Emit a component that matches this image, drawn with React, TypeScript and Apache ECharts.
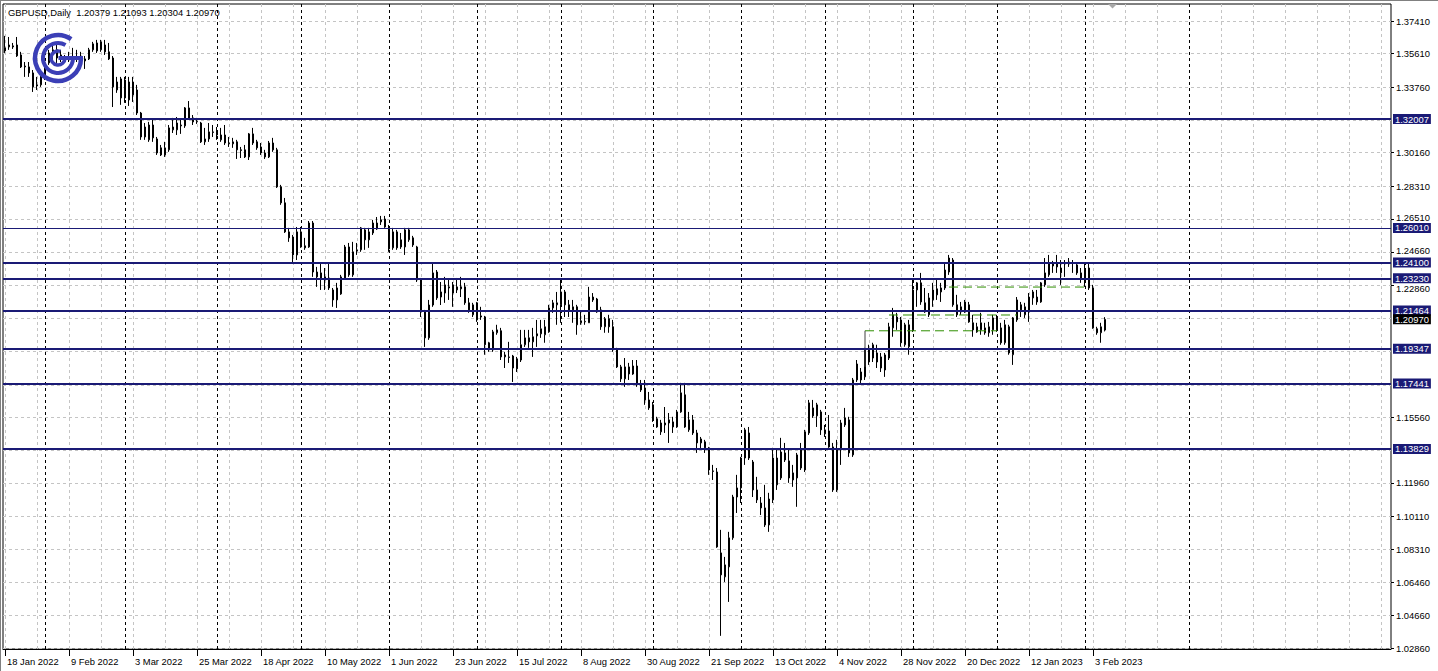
import React, { useEffect, useRef } from 'react';
import * as echarts from 'echarts';

// ---------- data ----------
const TITLE = 'GBPUSD,Daily  1.20379 1.21093 1.20304 1.20970';
const FIRST_DAY = [2022, 0, 18];
const MISSING_DAYS = ['2022-12-26'];
const FUTURE_SLOTS = 71;
const LABEL_EVERY = 16;
const LAST_LABEL_INDEX = 272;
const VGRID_EVERY = 8;
const FUTURE_SEPARATORS = [296];
const MONTHS = ['Jan', 'Feb', 'Mar', 'Apr', 'May', 'Jun', 'Jul', 'Aug', 'Sep', 'Oct', 'Nov', 'Dec'];

// [open, high, low, close]
const OHLC: number[][] = [
  [1.3593, 1.3659, 1.3565, 1.3576], [1.3598, 1.3653, 1.3582, 1.3609], [1.3598, 1.3620, 1.3587, 1.3604], [1.3609, 1.3653, 1.3543, 1.3549],
  [1.3554, 1.3571, 1.3482, 1.3488], [1.3488, 1.3515, 1.3433, 1.3493], [1.3488, 1.3515, 1.3433, 1.3455], [1.3455, 1.3471, 1.3350, 1.3378],
  [1.3383, 1.3433, 1.3361, 1.3389], [1.3389, 1.3444, 1.3378, 1.3433], [1.3433, 1.3526, 1.3416, 1.3510], [1.3510, 1.3582, 1.3499, 1.3565],
  [1.3565, 1.3609, 1.3510, 1.3582], [1.3582, 1.3620, 1.3510, 1.3537], [1.3554, 1.3582, 1.3515, 1.3537], [1.3532, 1.3554, 1.3510, 1.3529],
  [1.3537, 1.3571, 1.3515, 1.3540], [1.3540, 1.3593, 1.3510, 1.3537], [1.3537, 1.3582, 1.3515, 1.3543], [1.3548, 1.3571, 1.3515, 1.3526],
  [1.3521, 1.3548, 1.3477, 1.3532], [1.3532, 1.3593, 1.3526, 1.3582], [1.3582, 1.3626, 1.3571, 1.3615], [1.3576, 1.3637, 1.3565, 1.3620],
  [1.3582, 1.3637, 1.3571, 1.3626], [1.3609, 1.3637, 1.3554, 1.3571], [1.3571, 1.3620, 1.3526, 1.3532], [1.3537, 1.3548, 1.3267, 1.3378],
  [1.3361, 1.3433, 1.3345, 1.3405], [1.3317, 1.3433, 1.3279, 1.3422], [1.3416, 1.3433, 1.3290, 1.3317], [1.3306, 1.3433, 1.3273, 1.3405],
  [1.3405, 1.3433, 1.3295, 1.3334], [1.3361, 1.3389, 1.3223, 1.3234], [1.3234, 1.3240, 1.3086, 1.3102], [1.3102, 1.3179, 1.3086, 1.3157],
  [1.3086, 1.3185, 1.3075, 1.3168], [1.3168, 1.3196, 1.3075, 1.3097], [1.3091, 1.3102, 1.3003, 1.3014], [1.3042, 1.3058, 1.2997, 1.3003],
  [1.3003, 1.3075, 1.2992, 1.3042], [1.3031, 1.3168, 1.3020, 1.3152], [1.3141, 1.3207, 1.3124, 1.3157], [1.3141, 1.3212, 1.3113, 1.3179],
  [1.3163, 1.3196, 1.3119, 1.3168], [1.3163, 1.3267, 1.3152, 1.3262], [1.3262, 1.3300, 1.3196, 1.3201], [1.3207, 1.3223, 1.3168, 1.3185],
  [1.3185, 1.3207, 1.3174, 1.3188], [1.3179, 1.3185, 1.3069, 1.3075], [1.3075, 1.3152, 1.3058, 1.3091], [1.3091, 1.3179, 1.3075, 1.3130],
  [1.3130, 1.3168, 1.3102, 1.3127], [1.3135, 1.3157, 1.3086, 1.3113], [1.3086, 1.3152, 1.3075, 1.3113], [1.3113, 1.3168, 1.3058, 1.3069],
  [1.3069, 1.3102, 1.3047, 1.3066], [1.3064, 1.3097, 1.3042, 1.3075], [1.3075, 1.3086, 1.2981, 1.3031], [1.3031, 1.3047, 1.2986, 1.3028],
  [1.3031, 1.3058, 1.2986, 1.2992], [1.2992, 1.3124, 1.2975, 1.3119], [1.3119, 1.3152, 1.3058, 1.3069], [1.3075, 1.3086, 1.3031, 1.3042],
  [1.3047, 1.3069, 1.3003, 1.3014], [1.3014, 1.3031, 1.2981, 1.2992], [1.2992, 1.3080, 1.2986, 1.3069], [1.3069, 1.3097, 1.3020, 1.3031],
  [1.3031, 1.3042, 1.2821, 1.2827], [1.2827, 1.2838, 1.2728, 1.2739], [1.2739, 1.2766, 1.2573, 1.2579], [1.2579, 1.2601, 1.2524, 1.2546],
  [1.2551, 1.2562, 1.2413, 1.2452], [1.2452, 1.2606, 1.2424, 1.2579], [1.2579, 1.2606, 1.2491, 1.2496], [1.2502, 1.2546, 1.2480, 1.2491],
  [1.2496, 1.2639, 1.2491, 1.2628], [1.2628, 1.2639, 1.2331, 1.2358], [1.2358, 1.2386, 1.2276, 1.2331], [1.2353, 1.2408, 1.2259, 1.2325],
  [1.2331, 1.2380, 1.2259, 1.2314], [1.2325, 1.2408, 1.2259, 1.2270], [1.2259, 1.2270, 1.2166, 1.2204], [1.2204, 1.2298, 1.2160, 1.2270],
  [1.2237, 1.2342, 1.2232, 1.2331], [1.2325, 1.2507, 1.2314, 1.2496], [1.2496, 1.2518, 1.2331, 1.2342], [1.2342, 1.2524, 1.2331, 1.2469],
  [1.2474, 1.2518, 1.2452, 1.2480], [1.2480, 1.2606, 1.2469, 1.2601], [1.2590, 1.2601, 1.2480, 1.2535], [1.2535, 1.2601, 1.2491, 1.2579],
  [1.2573, 1.2645, 1.2562, 1.2628], [1.2595, 1.2661, 1.2590, 1.2628], [1.2634, 1.2667, 1.2617, 1.2645], [1.2650, 1.2667, 1.2601, 1.2606],
  [1.2606, 1.2617, 1.2469, 1.2485], [1.2491, 1.2601, 1.2480, 1.2579], [1.2579, 1.2590, 1.2480, 1.2491], [1.2535, 1.2573, 1.2485, 1.2496],
  [1.2496, 1.2601, 1.2452, 1.2590], [1.2535, 1.2601, 1.2524, 1.2590], [1.2546, 1.2557, 1.2496, 1.2507], [1.2496, 1.2502, 1.2303, 1.2314],
  [1.2314, 1.2325, 1.2110, 1.2138], [1.2138, 1.2149, 1.1945, 1.1995], [1.1995, 1.2204, 1.1984, 1.2176], [1.2176, 1.2408, 1.2166, 1.2353],
  [1.2358, 1.2369, 1.2204, 1.2215], [1.2220, 1.2303, 1.2176, 1.2248], [1.2242, 1.2331, 1.2188, 1.2287], [1.2270, 1.2314, 1.2204, 1.2276],
  [1.2287, 1.2303, 1.2166, 1.2242], [1.2259, 1.2325, 1.2242, 1.2276], [1.2276, 1.2331, 1.2220, 1.2265], [1.2276, 1.2298, 1.2177, 1.2188],
  [1.2188, 1.2215, 1.2133, 1.2149], [1.2122, 1.2188, 1.2110, 1.2177], [1.2188, 1.2193, 1.2083, 1.2094], [1.2116, 1.2166, 1.2094, 1.2110],
  [1.2110, 1.2116, 1.1902, 1.1957], [1.1929, 1.1973, 1.1918, 1.1968], [1.1929, 1.2039, 1.1918, 1.2028], [1.2023, 1.2067, 1.2012, 1.2039],
  [1.2034, 1.2050, 1.1873, 1.1890], [1.1890, 1.1918, 1.1829, 1.1901], [1.1890, 1.1973, 1.1857, 1.1887], [1.1895, 1.1901, 1.1752, 1.1829],
  [1.1824, 1.1890, 1.1807, 1.1879], [1.1873, 1.2039, 1.1862, 1.1957], [1.1957, 1.2039, 1.1945, 1.1995], [1.1995, 1.2039, 1.1940, 1.1973],
  [1.1973, 1.2050, 1.1890, 1.2001], [1.2017, 1.2094, 1.1945, 1.2006], [1.2017, 1.2094, 1.1995, 1.2045], [1.2012, 1.2094, 1.1968, 1.2056],
  [1.2028, 1.2177, 1.2023, 1.2160], [1.2160, 1.2204, 1.2133, 1.2188], [1.2177, 1.2248, 1.2067, 1.2188], [1.2177, 1.2314, 1.2078, 1.2248],
  [1.2248, 1.2259, 1.2110, 1.2177], [1.2177, 1.2204, 1.2110, 1.2149], [1.2149, 1.2204, 1.2078, 1.2166], [1.2166, 1.2177, 1.2012, 1.2067],
  [1.2078, 1.2138, 1.2067, 1.2089], [1.2083, 1.2122, 1.2067, 1.2086], [1.2078, 1.2276, 1.2078, 1.2220], [1.2220, 1.2242, 1.2193, 1.2204],
  [1.2209, 1.2215, 1.2133, 1.2138], [1.2149, 1.2166, 1.2039, 1.2056], [1.2056, 1.2110, 1.2023, 1.2100], [1.2100, 1.2122, 1.2023, 1.2056],
  [1.2056, 1.2094, 1.1918, 1.1929], [1.1929, 1.1940, 1.1829, 1.1835], [1.1835, 1.1846, 1.1752, 1.1769], [1.1769, 1.1884, 1.1725, 1.1835],
  [1.1835, 1.1857, 1.1763, 1.1796], [1.1796, 1.1873, 1.1791, 1.1840], [1.1840, 1.1873, 1.1725, 1.1736], [1.1736, 1.1763, 1.1697, 1.1708],
  [1.1719, 1.1763, 1.1626, 1.1653], [1.1653, 1.1697, 1.1598, 1.1609], [1.1626, 1.1642, 1.1532, 1.1543], [1.1549, 1.1560, 1.1499, 1.1504],
  [1.1477, 1.1543, 1.1460, 1.1526], [1.1515, 1.1614, 1.1471, 1.1526], [1.1526, 1.1581, 1.1416, 1.1543], [1.1532, 1.1560, 1.1471, 1.1504],
  [1.1504, 1.1598, 1.1499, 1.1587], [1.1587, 1.1747, 1.1582, 1.1692], [1.1681, 1.1747, 1.1499, 1.1504], [1.1488, 1.1587, 1.1477, 1.1543],
  [1.1543, 1.1570, 1.1460, 1.1471], [1.1471, 1.1488, 1.1361, 1.1416], [1.1416, 1.1449, 1.1378, 1.1438], [1.1422, 1.1433, 1.1361, 1.1389],
  [1.1389, 1.1394, 1.1240, 1.1267], [1.1262, 1.1295, 1.1212, 1.1259], [1.1256, 1.1278, 1.0838, 1.0843], [1.0810, 1.0937, 1.0353, 1.0689],
  [1.0678, 1.0788, 1.0650, 1.0744], [1.0733, 1.0926, 1.0540, 1.0893], [1.0893, 1.1130, 1.0882, 1.1118], [1.1118, 1.1240, 1.1030, 1.1168],
  [1.1168, 1.1339, 1.1085, 1.1333], [1.1333, 1.1499, 1.1295, 1.1488], [1.1471, 1.1504, 1.1322, 1.1333], [1.1311, 1.1322, 1.1118, 1.1157],
  [1.1157, 1.1229, 1.1085, 1.1102], [1.1085, 1.1118, 1.1019, 1.1058], [1.1058, 1.1185, 1.0953, 1.0964], [1.0964, 1.1141, 1.0926, 1.1107],
  [1.1102, 1.1389, 1.1085, 1.1333], [1.1333, 1.1378, 1.1157, 1.1185], [1.1223, 1.1444, 1.1212, 1.1366], [1.1361, 1.1416, 1.1311, 1.1322],
  [1.1317, 1.1378, 1.1196, 1.1223], [1.1212, 1.1295, 1.1174, 1.1251], [1.1223, 1.1361, 1.1064, 1.1350], [1.1378, 1.1416, 1.1267, 1.1278],
  [1.1267, 1.1488, 1.1256, 1.1477], [1.1471, 1.1653, 1.1460, 1.1637], [1.1609, 1.1653, 1.1554, 1.1565], [1.1565, 1.1637, 1.1504, 1.1626],
  [1.1587, 1.1598, 1.1460, 1.1488], [1.1466, 1.1515, 1.1449, 1.1488], [1.1482, 1.1570, 1.1389, 1.1394], [1.1394, 1.1416, 1.1146, 1.1157],
  [1.1157, 1.1433, 1.1146, 1.1378], [1.1378, 1.1543, 1.1295, 1.1526], [1.1515, 1.1609, 1.1504, 1.1554], [1.1543, 1.1560, 1.1339, 1.1361],
  [1.1350, 1.1774, 1.1339, 1.1763], [1.1763, 1.1873, 1.1752, 1.1851], [1.1807, 1.1829, 1.1736, 1.1763], [1.1780, 1.1940, 1.1763, 1.1929],
  [1.1862, 1.1957, 1.1846, 1.1929], [1.1884, 1.1968, 1.1862, 1.1957], [1.1912, 1.1957, 1.1829, 1.1862], [1.1829, 1.1912, 1.1807, 1.1890],
  [1.1901, 1.1912, 1.1780, 1.1818], [1.1884, 1.2078, 1.1873, 1.2056], [1.2050, 1.2160, 1.2001, 1.2122], [1.2110, 1.2133, 1.2039, 1.2083],
  [1.2094, 1.2110, 1.1946, 1.1968], [1.1957, 1.2078, 1.1946, 1.2067], [1.1946, 1.2094, 1.1902, 1.2067], [1.2039, 1.2314, 1.2028, 1.2259],
  [1.2259, 1.2303, 1.2166, 1.2298], [1.2298, 1.2353, 1.2177, 1.2193], [1.2188, 1.2270, 1.2133, 1.2138], [1.2122, 1.2242, 1.2110, 1.2215],
  [1.2204, 1.2298, 1.2166, 1.2259], [1.2265, 1.2314, 1.2204, 1.2232], [1.2248, 1.2298, 1.2193, 1.2270], [1.2270, 1.2408, 1.2259, 1.2369],
  [1.2358, 1.2452, 1.2342, 1.2435], [1.2424, 1.2435, 1.2166, 1.2177], [1.2177, 1.2232, 1.2110, 1.2122], [1.2138, 1.2193, 1.2122, 1.2166],
  [1.2138, 1.2204, 1.2133, 1.2193], [1.2177, 1.2193, 1.2078, 1.2083], [1.2078, 1.2122, 1.2001, 1.2039], [1.2028, 1.2078, 1.2023, 1.2056],
  [1.2039, 1.2133, 1.2012, 1.2078], [1.2050, 1.2078, 1.2012, 1.2023], [1.2023, 1.2083, 1.2001, 1.2056], [1.2039, 1.2122, 1.2012, 1.2105],
  [1.2110, 1.2122, 1.2028, 1.2039], [1.2050, 1.2078, 1.1957, 1.1968], [1.1968, 1.2094, 1.1957, 1.2067], [1.2056, 1.2067, 1.1902, 1.1912],
  [1.1902, 1.2110, 1.1846, 1.2105], [1.2094, 1.2220, 1.2083, 1.2204], [1.2177, 1.2193, 1.2110, 1.2149], [1.2122, 1.2188, 1.2105, 1.2166],
  [1.2138, 1.2242, 1.2083, 1.2220], [1.2215, 1.2259, 1.2177, 1.2248], [1.2220, 1.2259, 1.2177, 1.2193], [1.2193, 1.2303, 1.2188, 1.2298],
  [1.2287, 1.2435, 1.2276, 1.2353], [1.2342, 1.2452, 1.2331, 1.2408], [1.2391, 1.2419, 1.2353, 1.2408], [1.2408, 1.2452, 1.2353, 1.2386],
  [1.2353, 1.2424, 1.2287, 1.2380], [1.2408, 1.2424, 1.2331, 1.2402], [1.2402, 1.2435, 1.2386, 1.2413], [1.2408, 1.2424, 1.2353, 1.2405],
  [1.2397, 1.2413, 1.2342, 1.2353], [1.2353, 1.2380, 1.2298, 1.2325], [1.2325, 1.2408, 1.2276, 1.2369], [1.2380, 1.2408, 1.2259, 1.2270],
  [1.2270, 1.2287, 1.2045, 1.2050], [1.2045, 1.2056, 1.2012, 1.2023], [1.2023, 1.2078, 1.1968, 1.2056], [1.20379, 1.21093, 1.20304, 1.20970],
];

const PRICE_GRID = [1.37410, 1.35610, 1.33760, 1.31960, 1.30160, 1.28310, 1.26510, 1.24660, 1.22860, 1.21010,
  1.19210, 1.17360, 1.15560, 1.13760, 1.11960, 1.10110, 1.08310, 1.06460, 1.04660, 1.02860];
const PRICE_LABELS = [1.37410, 1.35610, 1.33760, 1.30160, 1.28310, 1.26510, 1.24660, 1.22860, 1.15560,
  1.11960, 1.10110, 1.08310, 1.06460, 1.04660, 1.02860];
const LABELS_NUDGED_UP = [1.26510, 1.24660];
const LABELS_NUDGED_DOWN = [1.22860];
const LEVELS = [1.32007, 1.26010, 1.24100, 1.23230, 1.21464, 1.19347, 1.17441, 1.13829];
const THIN_LEVELS = [1.26010];
const BID = 1.20970;
const Y_MIN = 1.02805;
const Y_MAX = 1.38347;
const OBJECT_HLINES = [
  { from: 215, to: 248, price: 1.2034 },
  { from: 221, to: 253, price: 1.2121 },
  { from: 236, to: 270, price: 1.2275 },
];
const OBJECT_VLINES = [{ at: 215, from: 1.2034, to: 1.1835 }];

// ---------- styles ----------
const FONT = 'Liberation Sans';
const FS = 9.4;
const NAVY = '#1a1a75';
const GRID_GREY = '#c4c4c4';
const GREEN = '#2f8f00';
const LOGO = '#3b3fb6';

function buildDates(n: number) {
  const out: { label: string; month: number }[] = [];
  const d = new Date(Date.UTC(FIRST_DAY[0], FIRST_DAY[1], FIRST_DAY[2]));
  while (out.length < n) {
    const wd = d.getUTCDay();
    const iso = d.toISOString().slice(0, 10);
    if (wd !== 0 && wd !== 6 && !MISSING_DAYS.includes(iso)) {
      out.push({ label: `${d.getUTCDate()} ${MONTHS[d.getUTCMonth()]} ${d.getUTCFullYear()}`, month: d.getUTCMonth() });
    }
    d.setUTCDate(d.getUTCDate() + 1);
  }
  return out;
}

function helperLine(name: string, z: number, markLine: any) {
  return {
    type: 'line', name, data: [], silent: true, z,
    markLine: { silent: true, symbol: ['none', 'none'], animation: false, precision: 5, z, label: { show: false }, ...markLine },
  };
}

function segmentSeries(name: string, pts: number[][], color: string, type: any, z: number) {
  return {
    type: 'line', name, data: pts, silent: true, z,
    symbol: 'none', showSymbol: false,
    lineStyle: { color, width: 1, type },
    itemStyle: { color },
    emphasis: { disabled: true },
  };
}

const near = (a: number, list: number[]) => list.some((v) => Math.abs(v - a) < 1e-7);

export default function App() {
  const ref = useRef<HTMLDivElement>(null);
  useEffect(() => {
    document.body.style.margin = '0';
    const el = ref.current;
    if (!el) return;
    const chart = echarts.init(el, undefined, { renderer: 'svg' });

    const dates = buildDates(OHLC.length);
    const categories = dates.map((d) => d.label);
    for (let k = 0; k < FUTURE_SLOTS; k++) categories.push(`f${k}`);
    const nCat = categories.length;

    const separators: number[] = [];
    for (let i = 1; i < dates.length; i++) if (dates[i].month !== dates[i - 1].month) separators.push(i);
    FUTURE_SEPARATORS.forEach((s) => separators.push(s));

    const vgrid: number[] = [];
    for (let i = 0; i < nCat; i += VGRID_EVERY) vgrid.push(i);

    const showLabel = (idx: number) => idx % LABEL_EVERY === 0 && idx <= LAST_LABEL_INDEX;

    const candleData = OHLC.map(([o, h, l, c]) => [o, c, l, h]);

    const levelData: any[] = LEVELS.map((v) => ({
      yAxis: v,
      lineStyle: { color: NAVY, width: THIN_LEVELS.includes(v) ? 1 : 2, type: 'solid' },
      label: { backgroundColor: NAVY },
    }));
    levelData.push({
      yAxis: BID,
      lineStyle: { color: 'rgba(0,0,0,0)', width: 1, type: 'solid' },
      label: { backgroundColor: '#000' },
    });

    const objectSeries: any[] = [
      ...OBJECT_HLINES.map((o, k) => segmentSeries(`obj${k}`, [[o.from, o.price], [o.to, o.price]], GREEN, [9, 5], 4)),
      ...OBJECT_VLINES.map((o, k) => segmentSeries(`objv${k}`, [[o.at, o.from], [o.at, o.to]], '#404040', 'solid', 4)),
    ];

    const option: any = {
      animation: false,
      backgroundColor: '#fff',
      textStyle: { fontFamily: FONT },
      grid: {
        left: 3, right: 47, top: 4, bottom: 22,
        show: true, borderColor: '#000', borderWidth: 1, backgroundColor: '#fff',
        containLabel: false, outerBoundsMode: 'none',
      },
      xAxis: {
        type: 'category',
        data: categories,
        boundaryGap: true,
        axisLine: { show: true, lineStyle: { color: '#000', width: 1 } },
        axisTick: { show: true, alignWithLabel: true, interval: (i: number) => showLabel(i), length: 7, lineStyle: { color: '#000' } },
        axisLabel: {
          interval: (i: number) => showLabel(i),
          align: 'left', margin: 8, color: '#000', fontSize: FS, fontFamily: FONT,
          padding: [0, 0, 0, 2],
        },
        splitLine: { show: false },
      },
      yAxis: {
        type: 'value',
        position: 'right',
        min: Y_MIN,
        max: Y_MAX,
        scale: true,
        axisLine: { show: false },
        axisTick: { show: true, customValues: PRICE_LABELS, length: 3, lineStyle: { color: '#000' } },
        axisLabel: {
          customValues: PRICE_LABELS,
          formatter: (v: number) => {
            const t = v.toFixed(5);
            if (near(v, LABELS_NUDGED_DOWN)) return `{dn|${t}}`;
            if (near(v, LABELS_NUDGED_UP)) return `{up|${t}}`;
            return t;
          },
          rich: {
            dn: { padding: [7, 0, 0, 0], fontSize: FS, fontFamily: FONT, color: '#000' },
            up: { padding: [0, 0, 3, 0], fontSize: FS, fontFamily: FONT, color: '#000' },
          },
          margin: 5, color: '#000', fontSize: FS, fontFamily: FONT,
        },
        splitLine: { show: false },
      },
      series: [
        helperLine('grid', 1, {
          lineStyle: { color: GRID_GREY, type: [3, 3], width: 1 },
          data: [...PRICE_GRID.map((v) => ({ yAxis: v })), ...vgrid.map((i) => ({ xAxis: i }))],
        }),
        helperLine('separators', 1, {
          lineStyle: { color: '#000', type: [3, 3], width: 1 },
          data: separators.map((i) => ({ xAxis: i })),
        }),
        {
          type: 'candlestick', name: 'GBPUSD', data: candleData, z: 3,
          barWidth: 2,
          itemStyle: { color: '#fff', color0: '#000', borderColor: '#000', borderColor0: '#000', borderWidth: 1 },
        },
        ...objectSeries,
        helperLine('levels', 5, {
          label: {
            show: true, position: 'end', distance: 2,
            formatter: (p: any) => Number(p.value).toFixed(5),
            color: '#fff', fontSize: FS, fontFamily: FONT,
            padding: [1, 2, 0, 2],
          },
          data: levelData,
        }),
      ],
      graphic: [
        { type: 'line', shape: { x1: 0.5, y1: 0, x2: 0.5, y2: 671 }, style: { stroke: '#808080', lineWidth: 1 }, z: 50, silent: true },
        { type: 'line', shape: { x1: 0, y1: 0.5, x2: 1438, y2: 0.5 }, style: { stroke: '#808080', lineWidth: 1 }, z: 50, silent: true },
        { type: 'polygon', shape: { points: [[1108, 4], [1117, 4], [1112.5, 8.5]] }, style: { fill: '#a8a8a8' }, z: 50, silent: true },
        {
          type: 'text', x: 8, y: 8, z: 60, silent: true,
          style: { text: TITLE, fontSize: FS, fontFamily: FONT, fill: '#000', verticalAlign: 'top' },
        },
        {
          type: 'group', z: 40, silent: true,
          children: [
            { type: 'arc', shape: { cx: 58, cy: 58, r: 23, startAngle: 0, endAngle: (305 * Math.PI) / 180, clockwise: true }, style: { stroke: LOGO, lineWidth: 4.5, fill: 'none' }, z: 40 },
            { type: 'arc', shape: { cx: 58, cy: 58, r: 15, startAngle: 0, endAngle: (300 * Math.PI) / 180, clockwise: true }, style: { stroke: LOGO, lineWidth: 4, fill: 'none' }, z: 40 },
            { type: 'arc', shape: { cx: 58, cy: 58, r: 7, startAngle: 0, endAngle: (290 * Math.PI) / 180, clockwise: true }, style: { stroke: LOGO, lineWidth: 3.5, fill: 'none' }, z: 40 },
            { type: 'line', shape: { x1: 58.5, y1: 58, x2: 83, y2: 58 }, style: { stroke: LOGO, lineWidth: 4 }, z: 40 },
          ],
        },
      ],
    };

    chart.setOption(option);
    return () => chart.dispose();
  }, []);

  return <div ref={ref} style={{ width: 1438, height: 671 }} />;
}
